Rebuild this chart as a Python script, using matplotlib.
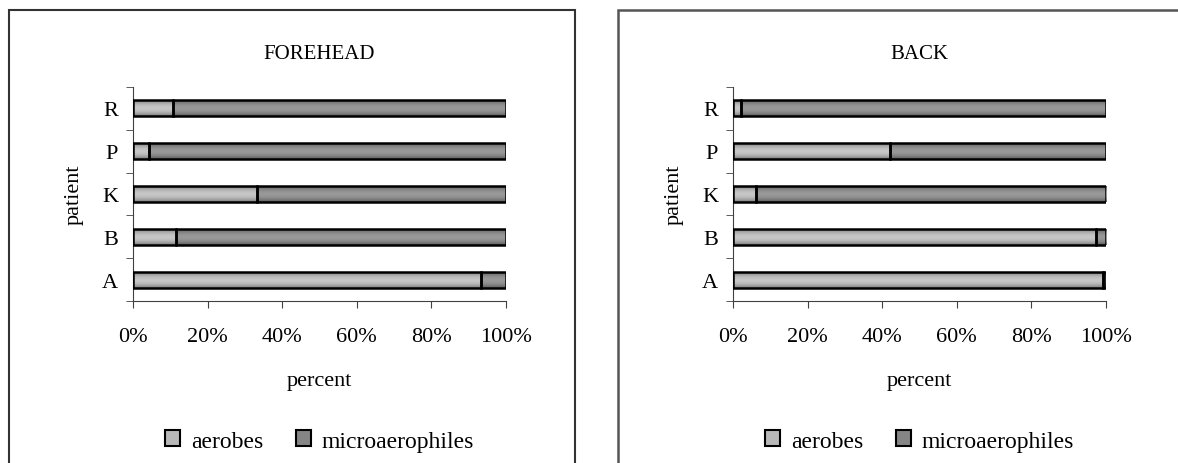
import matplotlib
matplotlib.use("Agg")
from matplotlib import pyplot as plt
from matplotlib.patches import Rectangle, Patch
import numpy as np

plt.rcParams["font.family"] = ["Liberation Serif", "DejaVu Serif"]
plt.rcParams["font.size"] = 16

patients = ["A", "B", "K", "P", "R"]
series_names = ["aerobes", "microaerophiles"]
forehead_aerobes = [93.4, 11.4, 33.2, 4.3, 10.7]
back_aerobes = [99.4, 97.3, 6.0, 42.0, 2.2]
panel_titles = ["FOREHEAD", "BACK"]

# cylinder-ish shading: dark edges, light middle
def shade(center, edge):
    t = np.abs(np.linspace(-1, 1, 32))[:, None]
    c = np.array(center) * (1 - t ** 2) + np.array(edge) * t ** 2
    return np.repeat(c[:, None, :], 2, axis=1)

grad = {
    "aerobes": shade([0.78, 0.78, 0.78], [0.48, 0.48, 0.48]),
    "microaerophiles": shade([0.60, 0.60, 0.60], [0.36, 0.36, 0.36]),
}

W, H = 1178, 464
fig = plt.figure(figsize=(W / 100, H / 100), dpi=100)

# panel frames
fig.patches.append(Rectangle((8.5 / W, -0.05), 566 / W, 1.05 - 10.5 / H,
                             transform=fig.transFigure, fill=False,
                             edgecolor="#333333", linewidth=1.5))
fig.patches.append(Rectangle((617.5 / W, -0.05), 0.5, 1.05 - 11 / H,
                             transform=fig.transFigure, fill=False,
                             edgecolor="#555555", linewidth=1.8))

lefts = [133.3 / W, 733.3 / W]
for left, title, aer in zip(lefts, panel_titles, [forehead_aerobes, back_aerobes]):
    ax = fig.add_axes([left, (H - 302) / H, 372.4 / W, 214 / H])
    y = np.arange(len(patients))
    micro = [100 - a for a in aer]
    h = 0.37
    for name, widths, starts in [("aerobes", aer, [0] * len(aer)),
                                 ("microaerophiles", micro, aer)]:
        bars = ax.barh(y, widths, left=starts, height=h, facecolor="none",
                       edgecolor="black", linewidth=1.8, zorder=3)
        for b in bars:
            x0, y0 = b.get_x(), b.get_y()
            ax.imshow(grad[name], extent=[x0, x0 + b.get_width(), y0, y0 + b.get_height()],
                      aspect="auto", interpolation="bilinear", zorder=2)
    ax.set_xlim(0, 100)
    ax.set_ylim(-0.5, len(patients) - 0.5)
    ax.set_aspect("auto")
    ax.set_xticks(np.arange(0, 101, 20))
    ax.set_xticklabels([f"{v}%" for v in range(0, 101, 20)])
    ax.set_yticks(y)
    ax.set_yticklabels(patients)
    ax.set_yticks(np.arange(-0.5, len(patients)), minor=True)
    ax.tick_params(axis="y", which="major", length=0, pad=11)
    ax.tick_params(axis="y", which="minor", length=5, direction="out", color="#404040")
    ax.tick_params(axis="x", length=5, direction="out", pad=14, color="#404040")
    for s in ["top", "right"]:
        ax.spines[s].set_visible(False)
    for s in ["left", "bottom"]:
        ax.spines[s].set_color("#404040")
    ax.set_title(title, fontsize=15, pad=21)
    ax.set_xlabel("percent", labelpad=18)
    ax.set_ylabel("patient", labelpad=13)
    handles = [Patch(facecolor=(0.72, 0.72, 0.72), edgecolor="black", linewidth=1.5),
               Patch(facecolor=(0.52, 0.52, 0.52), edgecolor="black", linewidth=1.5)]
    ax.legend(handles, series_names, loc="center", bbox_to_anchor=(0.5, -(442 - 302) / 214),
              bbox_transform=ax.transAxes, ncol=2, frameon=False, fontsize=17,
              handlelength=0.65, handleheight=0.65, handletextpad=0.45, columnspacing=1.4)

fig.savefig("out.png", dpi=100)
